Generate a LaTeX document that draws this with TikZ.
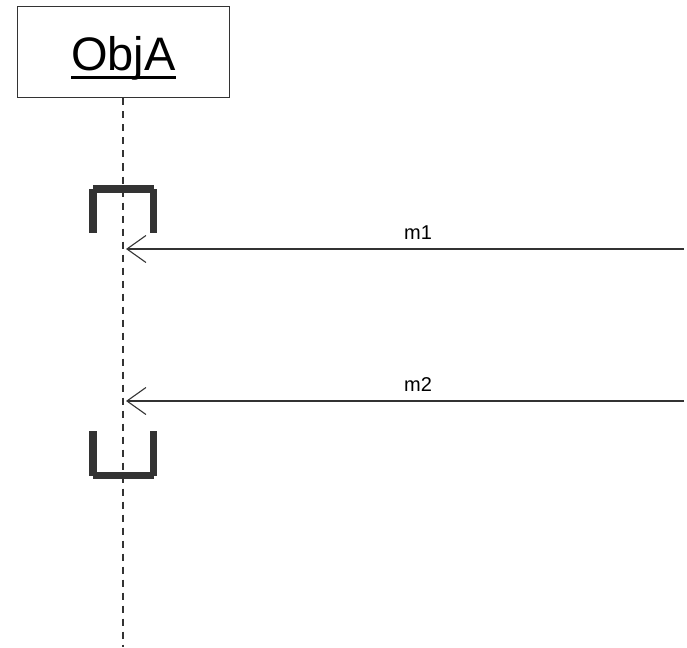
\documentclass[tikz,border=0pt]{standalone}
\usepackage{fontspec}
\setmainfont{Liberation Sans}
\usetikzlibrary{arrows.meta}

\definecolor{linegray}{HTML}{333333}

\begin{document}
\begin{tikzpicture}[x=1pt,y=-1pt]
    %
    % `object' is the box at the top of the lifeline.
    % `lifeline' is the dashed line below it.
    % `message' is used for incoming calls (open arrow heads).
    % `activation' is used for the thick brackets.
    \tikzstyle{object} = [draw=linegray,line width=1pt,minimum width=212pt,minimum height=91pt,inner sep=0pt]
    \tikzstyle{lifeline} = [draw=linegray,line width=1.3pt,dash pattern=on 7pt off 6pt]
    \tikzstyle{message} = [draw=linegray,line width=1.1pt,-{Straight Barb[length=19pt,width=27pt]}]
    \tikzstyle{msglabel} = [anchor=base,inner sep=0pt,font=\fontsize{20}{24}\selectfont]
    \tikzstyle{activation} = [draw=linegray,line width=7.5pt,line cap=butt]
    %
    \useasboundingbox (0,0) rectangle (687,647);
    %
    % Object
    \node[object] (objA) at (123,52.5) {};
    \node[anchor=base,inner sep=0pt,font=\fontsize{47}{56}\selectfont] (objname) at (123.5,71) {ObjA};
    \draw[line width=3.5pt] ([yshift=-6.5pt]objname.base west) -- ([yshift=-6.5pt]objname.base east);
    %
    % Lifeline
    \coordinate (lifeend) at (123,647);
    \draw[lifeline] (objA.south) -- (lifeend);
    %
    % Activation, top
    \draw[activation] (93,189) -- (153.5,189);
    \draw[activation] (93,189) -- (93,233);
    \draw[activation] (153.5,189) -- (153.5,233);
    %
    % Messages
    \coordinate (m1src) at (684,249);
    \coordinate (m1dst) at (126,249);
    \draw[message] (m1src) -- (m1dst);
    \node[msglabel] (m1) at (418,239) {m1};
    %
    \coordinate (m2src) at (684,401);
    \coordinate (m2dst) at (126,401);
    \draw[message] (m2src) -- (m2dst);
    \node[msglabel] (m2) at (418,391) {m2};
    %
    % Activation, bottom
    \draw[activation] (93,431) -- (93,475.5);
    \draw[activation] (153.5,431) -- (153.5,475.5);
    \draw[activation] (93,475.5) -- (153.5,475.5);
    %
\end{tikzpicture}
\end{document}
